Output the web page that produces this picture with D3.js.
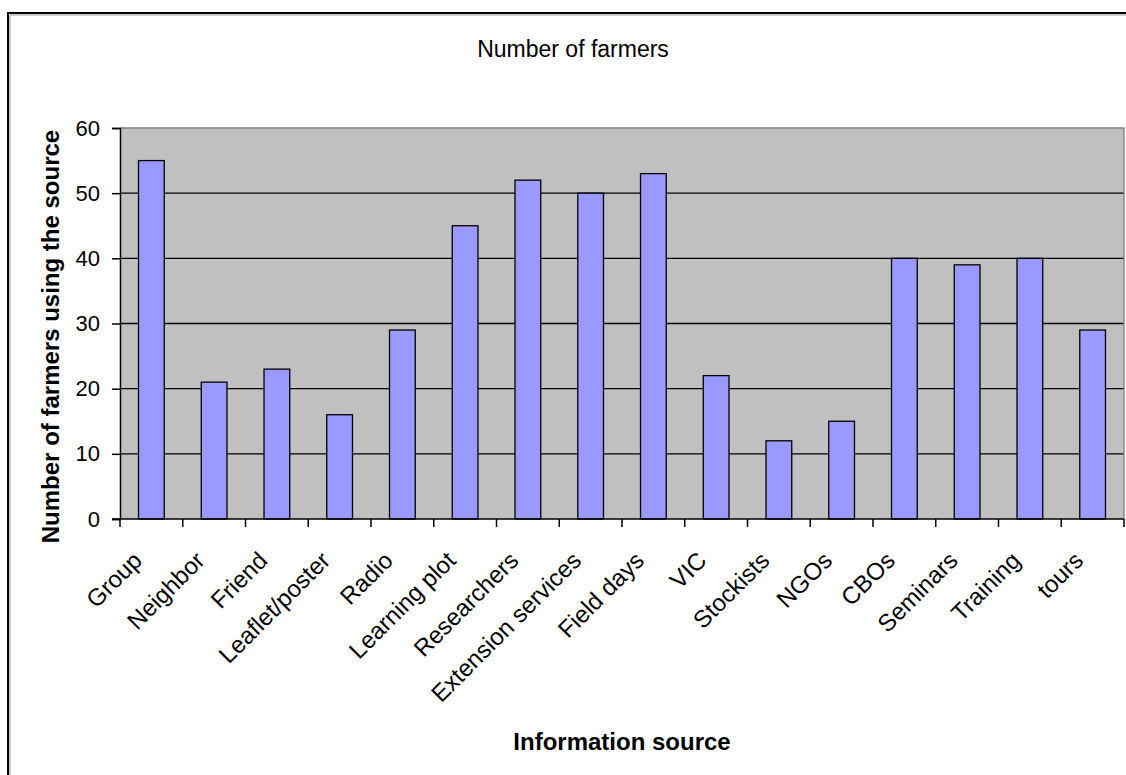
<!DOCTYPE html>
<html>
<head>
<meta charset="utf-8">
<script src="https://cdn.jsdelivr.net/npm/d3@7"></script>
<style>
  html, body { margin: 0; padding: 0; background: #fff; }
  svg { display: block; font-family: "Liberation Sans", Arial, sans-serif; }
</style>
</head>
<body>
<svg id="chart" width="1126" height="775"></svg>
<script>
// Information sources and the number of farmers using each
const categories = ["Group", "Neighbor", "Friend", "Leaflet/poster", "Radio", "Learning plot",
  "Researchers", "Extension services", "Field days", "VIC", "Stockists", "NGOs",
  "CBOs", "Seminars", "Training", "tours"];
const farmers = [55, 21, 23, 16, 29, 45, 52, 50, 53, 22, 12, 15, 40, 39, 40, 29];
const yTicks = [0, 10, 20, 30, 40, 50, 60];

const chartTitle = "Number of farmers";
const xTitle = "Information source";
const yTitle = "Number of farmers using the source";

const svg = d3.select("#chart");
const plot = { left: 120, right: 1124, top: 128, bottom: 519 };

// Outer chart frame
svg.append("rect").attr("x", 10).attr("y", 15).attr("width", 1200).attr("height", 900)
  .attr("fill", "none").attr("stroke", "#9a9a9a").attr("stroke-width", 1);
svg.append("rect").attr("x", 8).attr("y", 13).attr("width", 1200).attr("height", 900)
  .attr("fill", "none").attr("stroke", "#000").attr("stroke-width", 2);

const x = d3.scaleBand().domain(categories).range([plot.left, plot.right]).paddingInner(0).paddingOuter(0);
const y = d3.scaleLinear().domain([0, 60]).range([plot.bottom, plot.top]);

// Plot area background
svg.append("rect")
  .attr("x", plot.left).attr("y", plot.top)
  .attr("width", plot.right - plot.left).attr("height", plot.bottom - plot.top)
  .attr("fill", "#c0c0c0");

// Gridlines
svg.append("g").selectAll("line")
  .data(yTicks.filter(v => v > 0 && v < 60))
  .join("line")
  .attr("x1", plot.left).attr("x2", plot.right)
  .attr("y1", d => y(d)).attr("y2", d => y(d))
  .attr("stroke", "#000").attr("stroke-width", 1.3);

// Plot area border (top and right)
svg.append("path")
  .attr("d", `M${plot.left},${y(60)}H${plot.right}V${plot.bottom}`)
  .attr("fill", "none").attr("stroke", "#808080").attr("stroke-width", 1.3);

// Bars
const barW = x.bandwidth() * 0.41;
svg.append("g").selectAll("rect")
  .data(categories.map((c, i) => ({ c, v: farmers[i] })))
  .join("rect")
  .attr("x", d => x(d.c) + (x.bandwidth() - barW) / 2)
  .attr("y", d => y(d.v))
  .attr("width", barW)
  .attr("height", d => y(0) - y(d.v))
  .attr("fill", "#9999ff")
  .attr("stroke", "#000")
  .attr("stroke-width", 1.3);

// Y axis
const yAxis = d3.axisLeft(y).tickValues(yTicks).tickSize(8).tickPadding(12).tickFormat(d3.format("d"));
const gy = svg.append("g").attr("transform", `translate(${plot.left},0)`).call(yAxis);
gy.select(".domain").attr("stroke", "#000").attr("stroke-width", 1.5);
gy.selectAll(".tick line").attr("stroke", "#000").attr("stroke-width", 1.5);
gy.selectAll(".tick text").attr("font-size", 22).attr("fill", "#000")
  .attr("font-family", "Liberation Sans, Arial, sans-serif");

// X axis: ticks at category boundaries
const boundaries = categories.map(c => x(c)).concat([plot.right]);
svg.append("line")
  .attr("x1", plot.left - 8).attr("x2", plot.right)
  .attr("y1", plot.bottom).attr("y2", plot.bottom)
  .attr("stroke", "#000").attr("stroke-width", 1.5);
svg.append("g").selectAll("line")
  .data(boundaries)
  .join("line")
  .attr("x1", d => d).attr("x2", d => d)
  .attr("y1", plot.bottom).attr("y2", plot.bottom + 8)
  .attr("stroke", "#000").attr("stroke-width", 1.5);

// Category labels, rotated
svg.append("g").selectAll("text")
  .data(categories)
  .join("text")
  .attr("transform", d => `translate(${x(d) + x.bandwidth() / 2 - 8},${plot.bottom + 43}) rotate(-45)`)
  .attr("text-anchor", "end")
  .attr("font-size", 24)
  .attr("fill", "#000")
  .text(d => d);

// Titles
svg.append("text")
  .attr("x", 573).attr("y", 57)
  .attr("text-anchor", "middle").attr("font-size", 23).attr("fill", "#000")
  .text(chartTitle);

svg.append("text")
  .attr("x", (plot.left + plot.right) / 2).attr("y", 750)
  .attr("text-anchor", "middle").attr("font-size", 24).attr("font-weight", "bold").attr("fill", "#000")
  .text(xTitle);

svg.append("text")
  .attr("transform", `translate(59,${(130 + 543) / 2}) rotate(-90)`)
  .attr("text-anchor", "middle").attr("font-size", 24).attr("font-weight", "bold").attr("fill", "#000")
  .text(yTitle);
</script>
</body>
</html>
